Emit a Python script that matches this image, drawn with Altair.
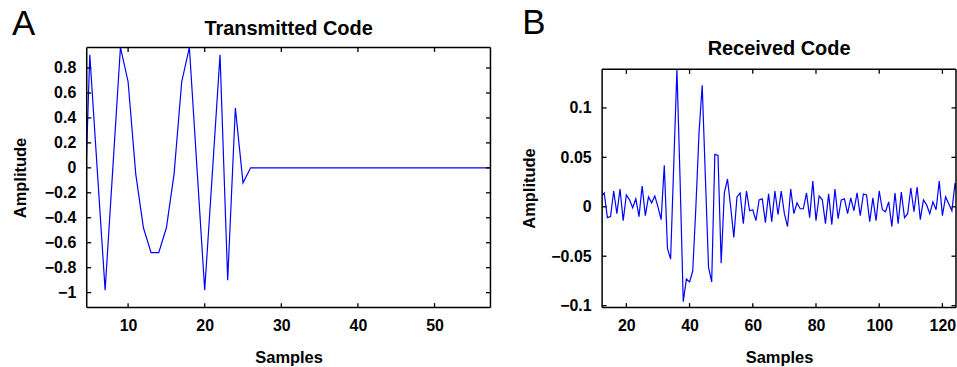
import altair as alt
import pandas as pd

# ---------------- data ----------------
a_samples = list(range(4, 59))
a_amplitude = [
    -0.98, 0.906, -0.04, -0.98, -0.01, 0.98, 0.69, -0.05, -0.48, -0.68,
    -0.68, -0.48, -0.05, 0.69, 0.98, -0.01, -0.98, -0.04, 0.906, -0.90,
    0.48, -0.12, 0.0, 0.0, 0.0, 0.0, 0.0, 0.0, 0.0, 0.0,
    0.0, 0.0, 0.0, 0.0, 0.0, 0.0, 0.0, 0.0, 0.0, 0.0,
    0.0, 0.0, 0.0, 0.0, 0.0, 0.0, 0.0, 0.0, 0.0, 0.0,
    0.0, 0.0, 0.0, 0.0, 0.0,
]

b_samples = list(range(12, 126))
b_amplitude = [
    0.010, 0.014, -0.011, -0.010, 0.016, -0.007, 0.018, -0.014, 0.012, 0.007,
    -0.001, 0.008, -0.010, 0.021, -0.009, 0.010, 0.004, 0.011, 0.000, -0.013,
    0.042, -0.042, -0.053, 0.043, 0.142, 0.027, -0.096, -0.073, -0.076, -0.065,
    0.000, 0.075, 0.123, 0.030, -0.061, -0.076, 0.053, 0.052, -0.057, 0.014,
    0.028, 0.000, -0.031, 0.010, 0.014, -0.017, 0.016, -0.004, -0.003, -0.014,
    0.007, 0.008, -0.016, 0.013, -0.015, 0.016, -0.008, 0.016, -0.007, -0.020,
    0.018, -0.007, 0.004, -0.002, -0.002, 0.014, -0.011, 0.026, -0.014, 0.011,
    0.007, -0.017, 0.013, -0.018, 0.018, -0.012, 0.007, 0.008, -0.007, 0.009,
    -0.004, 0.014, -0.009, 0.013, 0.012, -0.015, 0.009, -0.014, 0.016, -0.003,
    -0.005, 0.005, -0.020, 0.014, -0.017, 0.015, -0.011, -0.007, 0.019, -0.005,
    0.020, -0.013, 0.007, 0.002, -0.007, 0.005, -0.003, 0.026, -0.009, 0.010,
    0.003, -0.004, 0.024, 0.007,
]

a_xticks = [10, 20, 30, 40, 50]
a_yticks = [-1, -0.8, -0.6, -0.4, -0.2, 0, 0.2, 0.4, 0.6, 0.8]
b_xticks = [20, 40, 60, 80, 100, 120]
b_yticks = [-0.1, -0.05, 0, 0.05, 0.1]

# axis box limits; panel B's view reaches above its box so both views share a top
a_xframe = [4.6, 57.3]
a_yframe = [-1.12, 0.965]
a_yview = [-1.12, 0.965]
b_xframe = [12.33, 124.3]
b_yframe = [-0.102, 0.139]
b_yview = [-0.102, 0.1612]

FONT = "Liberation Sans"
TICK = 4.5


def panel(samples, amp, xf, yf, yv, xt, yt, title, letter, w, h,
          letter_dx, letter_dy, title_dy, ytitle_pad, ytitle_y=None):
    df = pd.DataFrame({"Samples": samples, "Amplitude": amp})
    xs = alt.Scale(domain=xf, nice=False, zero=False)
    ys = alt.Scale(domain=yv, nice=False, zero=False)

    xaxis = alt.Axis(values=xt, title="Samples",
                     labelPadding=10, titlePadding=16)
    yargs = dict(values=yt, title="Amplitude", format="~g",
                 labelPadding=11, titlePadding=ytitle_pad)
    if ytitle_y is not None:
        yargs["titleY"] = ytitle_y
    yaxis = alt.Axis(**yargs)

    line = alt.Chart(df).transform_calculate(
        amp_shown=f"min(datum.Amplitude, {yf[1]})"
    ).mark_line(color="#0000ff", strokeWidth=1.2, clip=True).encode(
        x=alt.X("Samples:Q", scale=xs, axis=xaxis),
        y=alt.Y("amp_shown:Q", scale=ys, axis=yaxis),
    )

    frame_df = pd.DataFrame({
        "x1": [xf[0], xf[0], xf[0], xf[1]],
        "x2": [xf[1], xf[1], xf[0], xf[1]],
        "y1": [yf[0], yf[1], yf[0], yf[0]],
        "y2": [yf[0], yf[1], yf[1], yf[1]],
    })
    frame = alt.Chart(frame_df).mark_rule(color="black", strokeWidth=1.5).encode(
        x=alt.X("x1:Q", scale=xs, axis=xaxis), x2="x2:Q",
        y=alt.Y("y1:Q", scale=ys, axis=yaxis), y2="y2:Q",
    )

    xtb = pd.DataFrame({"t": xt, "edge": [yf[0]] * len(xt)})
    xtt = pd.DataFrame({"t": xt, "edge": [yf[1]] * len(xt)})
    ytl = pd.DataFrame({"t": yt, "edge": [xf[0]] * len(yt)})
    ytr = pd.DataFrame({"t": yt, "edge": [xf[1]] * len(yt)})

    t_bottom = alt.Chart(xtb).mark_tick(
        orient="vertical", size=TICK, thickness=1.3, color="black", opacity=1,
        yOffset=-TICK / 2).encode(
        x=alt.X("t:Q", scale=xs, axis=xaxis), y=alt.Y("edge:Q", scale=ys, axis=yaxis))
    t_top = alt.Chart(xtt).mark_tick(
        orient="vertical", size=TICK, thickness=1.3, color="black", opacity=1,
        yOffset=TICK / 2).encode(
        x=alt.X("t:Q", scale=xs, axis=xaxis), y=alt.Y("edge:Q", scale=ys, axis=yaxis))
    t_left = alt.Chart(ytl).mark_tick(
        orient="horizontal", size=TICK, thickness=1.3, color="black", opacity=1,
        xOffset=TICK / 2).encode(
        y=alt.Y("t:Q", scale=ys, axis=yaxis), x=alt.X("edge:Q", scale=xs, axis=xaxis))
    t_right = alt.Chart(ytr).mark_tick(
        orient="horizontal", size=TICK, thickness=1.3, color="black", opacity=1,
        xOffset=-TICK / 2).encode(
        y=alt.Y("t:Q", scale=ys, axis=yaxis), x=alt.X("edge:Q", scale=xs, axis=xaxis))

    lab = alt.Chart(pd.DataFrame({"label": [letter]})).mark_text(
        font=FONT, fontSize=35, fontWeight="normal", color="black",
        align="left", baseline="alphabetic"
    ).encode(text="label:N", x=alt.value(letter_dx), y=alt.value(letter_dy))

    ttl = alt.Chart(pd.DataFrame({"label": [title]})).mark_text(
        font=FONT, fontSize=20, fontWeight="bold", color="black",
        align="center", baseline="alphabetic"
    ).encode(text="label:N", x=alt.value(w / 2), y=alt.value(title_dy))

    return alt.layer(line, frame, t_bottom, t_top, t_left, t_right, lab, ttl).properties(
        width=w, height=h)


pa = panel(a_samples, a_amplitude, a_xframe, a_yframe, a_yview, a_xticks, a_yticks,
           "Transmitted Code", "A", 405, 261, -75, -12, -12, 16)
pb = panel(b_samples, b_amplitude, b_xframe, b_yframe, b_yview, b_xticks, b_yticks,
           "Received Code", "B", 355, 261, -80, -13, 8, 13, ytitle_y=141)

chart = alt.hconcat(pa, pb, spacing=30).properties(
    padding={"left": 12, "top": 6, "right": 0, "bottom": 0},
    background="white",
).configure_view(
    stroke=None
).configure_axis(
    domain=False, ticks=False, tickSize=0, grid=False,
    labelFont=FONT, labelFontSize=16, labelFontWeight="bold", labelColor="black",
    titleFont=FONT, titleFontSize=16.5, titleFontWeight="bold", titleColor="black",
)

chart.save("out.html", embed_options={"renderer": "svg", "actions": False})
